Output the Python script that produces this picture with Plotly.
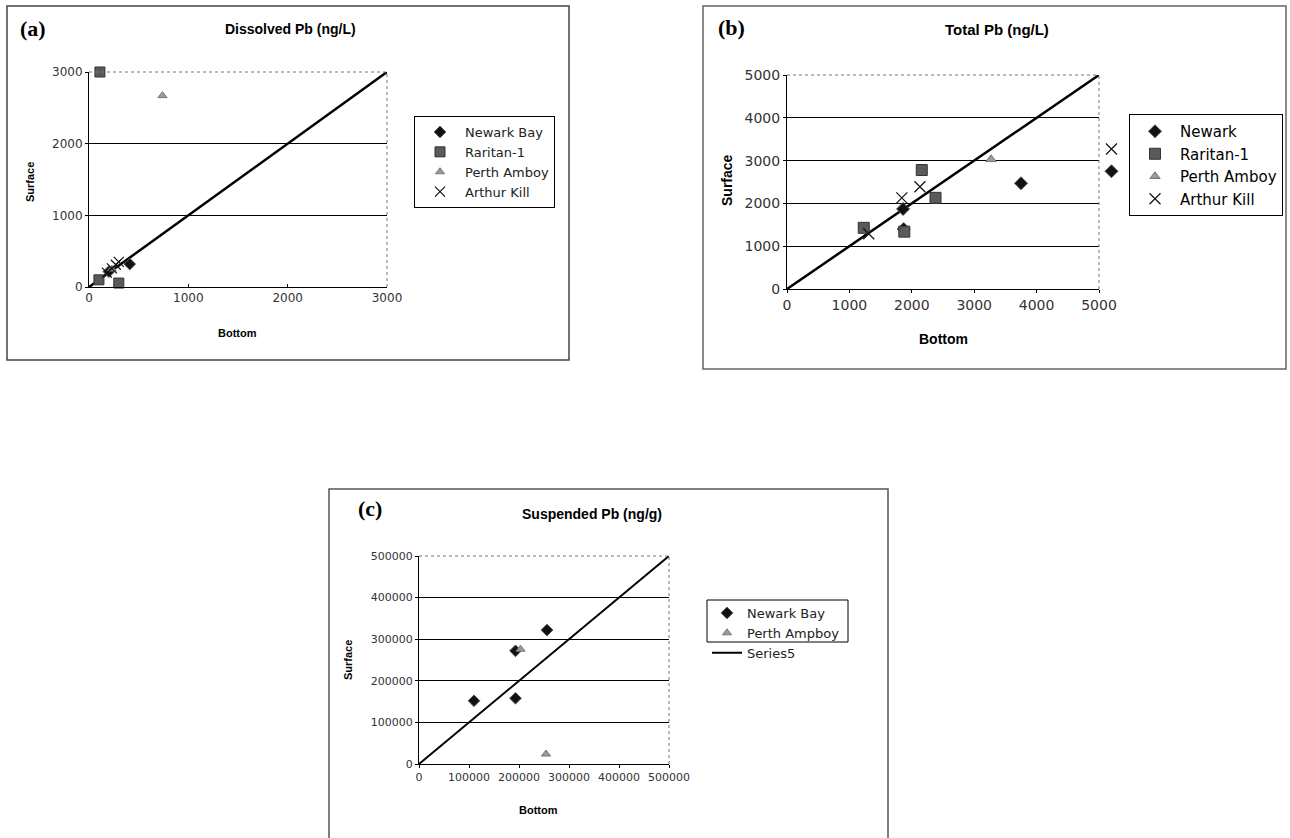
import plotly.graph_objects as go

W, H = 1290, 838

# ---------------- data ----------------
# (a) Dissolved Pb (ng/L)
a_newark_x = [410, 200]
a_newark_y = [320, 215]
a_raritan_x = [110, 300, 100]
a_raritan_y = [3000, 55, 100]
a_perth_x = [740, 230]
a_perth_y = [2670, 250]
a_arthur_x = [180, 230, 270, 300]
a_arthur_y = [200, 260, 310, 350]
a_line = [0, 3000]
a_ticks = [0, 1000, 2000, 3000]

# (b) Total Pb (ng/L)
b_newark_x = [1860, 1870, 3750, 5200]
b_newark_y = [1870, 1400, 2470, 2750]
b_raritan_x = [1230, 2160, 2380, 1880]
b_raritan_y = [1430, 2780, 2130, 1340]
b_perth_x = [3270]
b_perth_y = [3030]
b_arthur_x = [1840, 2130, 1310, 5200]
b_arthur_y = [2130, 2390, 1290, 3270]
b_line = [0, 5000]
b_ticks = [0, 1000, 2000, 3000, 4000, 5000]

# (c) Suspended Pb (ng/g)
c_newark_x = [110000, 193000, 193000, 256000]
c_newark_y = [152000, 158000, 272000, 322000]
c_perth_x = [203000, 254000]
c_perth_y = [276000, 24000]
c_line = [0, 500000]
c_ticks = [0, 100000, 200000, 300000, 400000, 500000]


def px_x(p):
    return p / W


def px_y(p):
    return 1 - p / H


fig = go.Figure()

DIAMOND = dict(symbol="diamond", color="#111111", size=9, line=dict(color="#555", width=1))
SQUARE = dict(symbol="square", color="#5a5a5a", size=10, line=dict(color="#333", width=1))
TRI = dict(symbol="triangle-up", color="#9a9a9a", size=8, line=dict(color="#777", width=1))
XMARK = dict(symbol="x-thin", color="#111", size=10, line=dict(color="#111", width=1.2))

# ---- panel (a)
fig.add_trace(go.Scatter(x=a_line, y=a_line, mode="lines", line=dict(color="black", width=2.5),
                         showlegend=False, xaxis="x", yaxis="y"))
fig.add_trace(go.Scatter(x=a_newark_x, y=a_newark_y, mode="markers", name="Newark Bay",
                         marker=DIAMOND, xaxis="x", yaxis="y", legend="legend", cliponaxis=False))
fig.add_trace(go.Scatter(x=a_raritan_x, y=a_raritan_y, mode="markers", name="Raritan-1",
                         marker=SQUARE, xaxis="x", yaxis="y", legend="legend", cliponaxis=False))
fig.add_trace(go.Scatter(x=a_perth_x, y=a_perth_y, mode="markers", name="Perth Amboy",
                         marker=TRI, xaxis="x", yaxis="y", legend="legend", cliponaxis=False))
fig.add_trace(go.Scatter(x=a_arthur_x, y=a_arthur_y, mode="markers", name="Arthur Kill",
                         marker=XMARK, xaxis="x", yaxis="y", legend="legend", cliponaxis=False))

# ---- panel (b)  (markers on hidden, same-scale but wider axes so the
#      points beyond 5000 remain visible just right of the plot area)
fig.add_trace(go.Scatter(x=b_line, y=b_line, mode="lines", line=dict(color="black", width=2.5),
                         showlegend=False, xaxis="x2", yaxis="y2"))
fig.add_trace(go.Scatter(x=b_newark_x, y=b_newark_y, mode="markers", name="Newark",
                         marker=dict(DIAMOND, size=10), xaxis="x4", yaxis="y5", legend="legend2",
                         cliponaxis=False))
fig.add_trace(go.Scatter(x=b_raritan_x, y=b_raritan_y, mode="markers", name="Raritan-1",
                         marker=dict(SQUARE, size=11), xaxis="x4", yaxis="y5", legend="legend2",
                         cliponaxis=False))
fig.add_trace(go.Scatter(x=b_perth_x, y=b_perth_y, mode="markers", name="Perth Amboy",
                         marker=dict(TRI, size=9), xaxis="x4", yaxis="y5", legend="legend2",
                         cliponaxis=False))
fig.add_trace(go.Scatter(x=b_arthur_x, y=b_arthur_y, mode="markers", name="Arthur Kill",
                         marker=dict(XMARK, size=11), xaxis="x4", yaxis="y5", legend="legend2",
                         cliponaxis=False))

# ---- panel (c)
fig.add_trace(go.Scatter(x=c_newark_x, y=c_newark_y, mode="markers", name="Newark Bay",
                         marker=DIAMOND, xaxis="x3", yaxis="y3", legend="legend3", cliponaxis=False))
fig.add_trace(go.Scatter(x=c_perth_x, y=c_perth_y, mode="markers", name="Perth Ampboy",
                         marker=TRI, xaxis="x3", yaxis="y3", legend="legend3", cliponaxis=False))
fig.add_trace(go.Scatter(x=c_line, y=c_line, mode="lines", name="Series5",
                         line=dict(color="black", width=2), xaxis="x3", yaxis="y3", legend="legend3"))

# ---------------- axes ----------------
def axis_common(size):
    return dict(zeroline=False, showline=True, linecolor="black", linewidth=1,
                ticks="outside", ticklen=3, tickcolor="black", automargin=False,
                tickfont=dict(family="DejaVu Sans", size=size, color="#333"))


boxes = {
    "a": (89, 387, 72, 287),
    "b": (787, 1099, 75, 289),
    "c": (419, 669, 556, 764),
}


def xdom(k):
    b = boxes[k]
    return [px_x(b[0]), px_x(b[1])]


def ydom(k):
    b = boxes[k]
    return [px_y(b[3]), px_y(b[2])]


b_ext_right = 1130  # pixel edge of the wider hidden axis for panel (b)
b_ext_max = b_ticks[-1] * (b_ext_right - boxes["b"][0]) / (boxes["b"][1] - boxes["b"][0])
hidden = dict(visible=False, showgrid=False, zeroline=False, automargin=False)

fig.update_layout(
    xaxis=dict(axis_common(12), domain=xdom("a"), range=[0, 3000], tickvals=a_ticks,
               showgrid=False, anchor="y", ticks="inside"),
    yaxis=dict(axis_common(12), domain=ydom("a"), range=[0, 3000], tickvals=a_ticks,
               showgrid=True, gridcolor="black", gridwidth=1, anchor="x"),
    xaxis2=dict(axis_common(14), domain=xdom("b"), range=[0, 5000], tickvals=b_ticks,
                showgrid=False, anchor="y2"),
    yaxis2=dict(axis_common(14), domain=ydom("b"), range=[0, 5000], tickvals=b_ticks,
                showgrid=True, gridcolor="black", gridwidth=1, anchor="x2"),
    xaxis4=dict(hidden, domain=[px_x(boxes["b"][0]), px_x(b_ext_right)], range=[0, b_ext_max],
                anchor="y5"),
    yaxis5=dict(hidden, domain=ydom("b"), range=[0, 5000], anchor="x4"),
    xaxis3=dict(axis_common(11), domain=xdom("c"), range=[0, 500000], tickvals=c_ticks,
                tickformat="d", showgrid=False, anchor="y3"),
    yaxis3=dict(axis_common(11), domain=ydom("c"), range=[0, 500000], tickvals=c_ticks,
                tickformat="d", showgrid=True, gridcolor="black", gridwidth=1, anchor="x3"),
)

# ---------------- legends ----------------
leg_common = dict(bgcolor="white", bordercolor="black", borderwidth=1,
                  xanchor="left", yanchor="top", tracegroupgap=0)
fig.update_layout(
    legend=dict(leg_common, x=px_x(414), y=px_y(116), itemwidth=40,
                font=dict(family="DejaVu Sans", size=13, color="#222")),
    legend2=dict(leg_common, x=px_x(1129), y=px_y(114), itemwidth=40,
                 font=dict(family="DejaVu Sans", size=15, color="black")),
    legend3=dict(x=px_x(707), y=px_y(598), xanchor="left", yanchor="top",
                 bgcolor="rgba(0,0,0,0)", borderwidth=0, tracegroupgap=0,
                 font=dict(family="DejaVu Sans", size=13, color="#222")),
)

# ---------------- frames / plot-area borders ----------------
shapes = []
panel_boxes = [(7, 569, 6, 360, "#444"), (703, 1286, 6, 369, "#666"), (329, 888, 489, 845, "#555")]
for x0, x1, y0, y1, col in panel_boxes:
    shapes.append(dict(type="rect", xref="paper", yref="paper",
                       x0=px_x(x0), x1=px_x(x1), y0=px_y(y1), y1=px_y(y0),
                       line=dict(color=col, width=1.5), layer="below"))
# border around the first two entries of legend (c)
shapes.append(dict(type="rect", xref="paper", yref="paper",
                   x0=px_x(707), x1=px_x(848), y0=px_y(642), y1=px_y(600),
                   line=dict(color="black", width=1), layer="below"))
for ax in ["", "2", "3"]:
    shapes.append(dict(type="line", xref=f"x{ax} domain", yref=f"y{ax} domain",
                       x0=0, x1=1, y0=1, y1=1, line=dict(color="#777", width=1, dash="dot")))
    shapes.append(dict(type="line", xref=f"x{ax} domain", yref=f"y{ax} domain",
                       x0=1, x1=1, y0=0, y1=1, line=dict(color="#777", width=1, dash="dot")))
fig.update_layout(shapes=shapes)

# ---------------- text ----------------
ann = []


def text(x, y, s, size, family="Liberation Sans, Arial", bold=True, angle=0, color="black"):
    ann.append(dict(x=px_x(x), y=px_y(y), xref="paper", yref="paper", text=f"<b>{s}</b>" if bold else s,
                    showarrow=False, xanchor="center", yanchor="middle", textangle=angle,
                    font=dict(family=family, size=size, color=color)))


# panel labels
text(33, 28, "(a)", 22, family="Liberation Serif, Times New Roman")
text(731, 27, "(b)", 22, family="Liberation Serif, Times New Roman")
text(370, 508, "(c)", 22, family="Liberation Serif, Times New Roman")
# titles
text(290, 29, "Dissolved Pb (ng/L)", 14)
text(997, 30, "Total Pb (ng/L)", 15)
text(592, 514, "Suspended Pb (ng/g)", 14)
# axis titles
text(237, 333, "Bottom", 11)
text(30, 182, "Surface", 11, angle=-90)
text(943, 339, "Bottom", 14)
text(727, 180, "Surface", 14, angle=-90)
text(538, 810, "Bottom", 11)
text(348, 660, "Surface", 11, angle=-90)

fig.update_layout(annotations=ann)

fig.update_layout(width=W, height=H, margin=dict(l=0, r=0, t=0, b=0, autoexpand=False),
                  paper_bgcolor="white", plot_bgcolor="rgba(0,0,0,0)",
                  font=dict(family="Liberation Sans, Arial", color="black"))

fig.write_html("out.html", config={"displayModeBar": False},
               post_script="document.body.style.margin='0';document.body.style.overflow='hidden';")
